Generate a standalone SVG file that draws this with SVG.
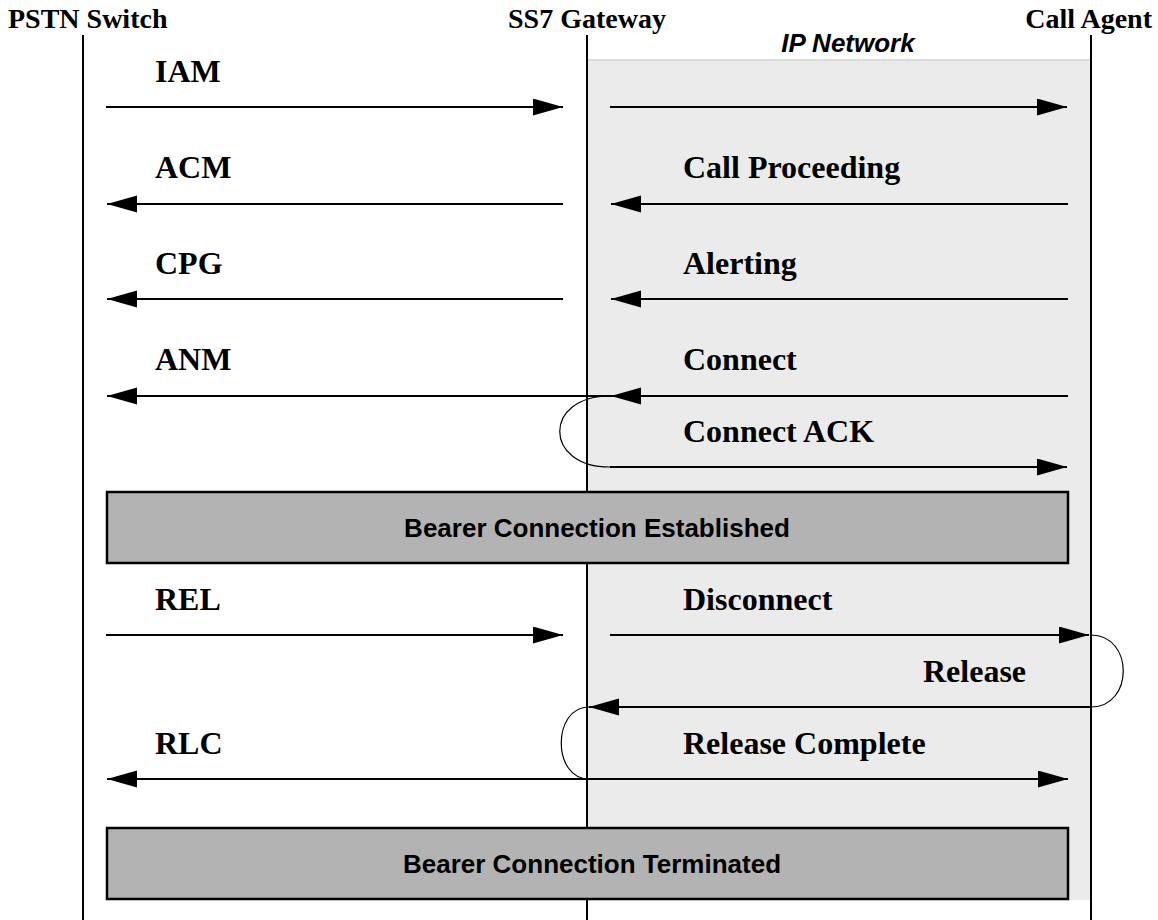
<svg xmlns="http://www.w3.org/2000/svg" width="1158" height="920" viewBox="0 0 1158 920">
<style>
.hdr{font-family:"Liberation Serif","Times New Roman",serif;font-weight:bold;font-size:28px;fill:#000}
.msg{font-family:"Liberation Serif","Times New Roman",serif;font-weight:bold;font-size:32px;fill:#000}
.box{font-family:"Liberation Sans",Arial,sans-serif;font-weight:bold;font-size:26px;fill:#000}
.net{font-family:"Liberation Sans",Arial,sans-serif;font-weight:bold;font-style:italic;font-size:26px;fill:#000}
.life{stroke:#000;stroke-width:2;fill:none}
.arr{stroke:#000;stroke-width:2;fill:none}
.loop{stroke:#000;stroke-width:1.2;fill:none}
.bar{fill:#b3b3b3;stroke:#000;stroke-width:2.5}
</style>
<defs>
<marker id="ah" markerUnits="userSpaceOnUse" markerWidth="32" markerHeight="18" refX="30" refY="8.5" orient="auto-start-reverse" viewBox="0 0 32 18">
<path d="M0,0 L30,8.5 L0,17 Z" fill="#000"/>
</marker>
</defs>
<rect id="ip-network-area" x="587" y="59" width="504" height="841" fill="#ebebeb"/>
<line x1="587" y1="60" x2="1091" y2="60" stroke="#dcdcdc" stroke-width="2"/>
<g id="pstn-switch">
<text class="hdr" x="8" y="28">PSTN Switch</text>
<line class="life" x1="83" y1="35" x2="83" y2="920"/>
</g>
<g id="ss7-gateway">
<text class="hdr" x="587" y="28" text-anchor="middle">SS7 Gateway</text>
<line class="life" x1="587" y1="35" x2="587" y2="920"/>
</g>
<g id="call-agent">
<text class="hdr" x="1152" y="28" text-anchor="end">Call Agent</text>
<line class="life" x1="1091" y1="35" x2="1091" y2="920"/>
</g>
<g id="ip-network-label">
<text class="net" x="848" y="52" text-anchor="middle">IP Network</text>
</g>
<g id="bearer-established">
<rect class="bar" x="107" y="492" width="961" height="71"/>
<text class="box" x="597" y="537" text-anchor="middle">Bearer Connection Established</text>
</g>
<g id="bearer-terminated">
<rect class="bar" x="107" y="828" width="961" height="71"/>
<text class="box" x="592" y="873" text-anchor="middle">Bearer Connection Terminated</text>
</g>
<g id="connectors">
<line class="arr" x1="106" y1="107" x2="563" y2="107" marker-end="url(#ah)"/>
<line class="arr" x1="610" y1="107" x2="1067" y2="107" marker-end="url(#ah)"/>
<line class="arr" x1="563" y1="204" x2="107" y2="204" marker-end="url(#ah)"/>
<line class="arr" x1="1068" y1="204" x2="611" y2="204" marker-end="url(#ah)"/>
<line class="arr" x1="563" y1="299" x2="107" y2="299" marker-end="url(#ah)"/>
<line class="arr" x1="1068" y1="299" x2="611" y2="299" marker-end="url(#ah)"/>
<line class="arr" x1="1068" y1="396" x2="611" y2="396" marker-end="url(#ah)"/>
<line class="arr" x1="611" y1="396" x2="107" y2="396" marker-end="url(#ah)"/>
<path class="loop" d="M610,396 C543,396 543,467 610,467"/>
<line class="arr" x1="610" y1="467" x2="1067" y2="467" marker-end="url(#ah)"/>
<line class="arr" x1="106" y1="635" x2="563" y2="635" marker-end="url(#ah)"/>
<line class="arr" x1="610" y1="635" x2="1089" y2="635" marker-end="url(#ah)"/>
<path class="loop" d="M1091,635 C1134,635 1134,707 1091,707"/>
<line class="arr" x1="1091" y1="707" x2="589" y2="707" marker-end="url(#ah)"/>
<path class="loop" d="M589,707 C552,707 552,779 589,779"/>
<line class="arr" x1="107" y1="779" x2="1068" y2="779" marker-start="url(#ah)" marker-end="url(#ah)"/>
</g>
<g id="labels">
<text class="msg" x="155" y="82">IAM</text>
<text class="msg" x="155" y="178">ACM</text>
<text class="msg" x="683" y="178">Call Proceeding</text>
<text class="msg" x="155" y="274">CPG</text>
<text class="msg" x="683" y="274">Alerting</text>
<text class="msg" x="155" y="370">ANM</text>
<text class="msg" x="683" y="370">Connect</text>
<text class="msg" x="683" y="442">Connect ACK</text>
<text class="msg" x="155" y="610">REL</text>
<text class="msg" x="683" y="610">Disconnect</text>
<text class="msg" x="923" y="682">Release</text>
<text class="msg" x="155" y="754">RLC</text>
<text class="msg" x="683" y="754">Release Complete</text>
</g>
</svg>
